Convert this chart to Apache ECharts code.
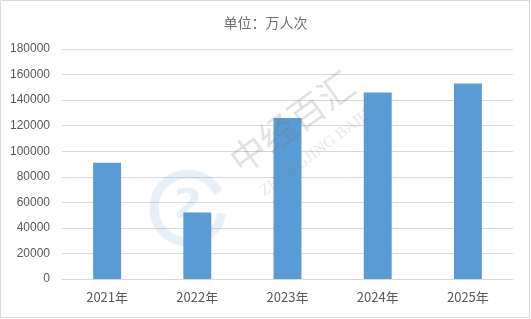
<!DOCTYPE html>
<html>
<head>
<meta charset="utf-8">
<script src="https://cdn.jsdelivr.net/npm/echarts@6/dist/echarts.min.js"></script>
<style>
  html, body { margin: 0; padding: 0; background: #fff; }
  #chart { width: 531px; height: 319px; }
</style>
</head>
<body>
<div id="chart"></div>
<script>
// Visitor volume by year (unit: 10k person-trips)
const years = ['2021年', '2022年', '2023年', '2024年', '2025年'];
const visits = [91000, 52000, 126000, 146000, 153000];
const yTicks = { min: 0, max: 180000, interval: 20000 };

const chart = echarts.init(document.getElementById('chart'), null, { renderer: 'canvas' });

chart.setOption({
  backgroundColor: '#ffffff',
  animation: false,
  title: {
    text: '单位：万人次',
    left: 'center',
    top: 11,
    textStyle: { fontFamily: 'Noto Sans CJK SC', fontSize: 14, fontWeight: 'normal', color: '#6f6f6f' }
  },
  grid: { left: 62, right: 18, top: 49, bottom: 40, containLabel: false },
  xAxis: {
    type: 'category',
    data: years,
    axisLine: { show: true, lineStyle: { color: '#D9D9D9', width: 1 } },
    axisTick: { show: false },
    axisLabel: { color: '#595959', fontSize: 13, margin: 12, fontFamily: 'Noto Sans CJK SC' }
  },
  yAxis: {
    type: 'value',
    min: yTicks.min,
    max: yTicks.max,
    interval: yTicks.interval,
    axisLine: { show: false },
    axisTick: { show: false },
    splitLine: { lineStyle: { color: '#D9D9D9', width: 1 } },
    axisLabel: {
      color: '#595959', fontSize: 12, margin: 12, fontFamily: 'Liberation Sans',
      formatter: v => String(v)
    }
  },
  series: [{
    type: 'bar',
    data: visits,
    barWidth: '31%',
    itemStyle: { color: '#5B9BD5' },
    z: 2
  }],
  graphic: [
    // chart frame
    {
      type: 'rect',
      shape: { x: 0.5, y: 0.5, width: 529, height: 317 },
      style: { fill: 'none', stroke: '#D9D9D9', lineWidth: 1 },
      silent: true, z: 0
    },
    // brand mark: ring
    {
      type: 'arc',
      shape: { cx: 188, cy: 208, r: 34, startAngle: Math.PI * 0.05, endAngle: Math.PI * 1.85 },
      style: { fill: 'none', stroke: 'rgba(91,155,213,0.15)', lineWidth: 9 },
      silent: true, z: 100
    },
    {
      type: 'text',
      x: 188, y: 208,
      style: {
        text: '2', fontSize: 40, fontWeight: 'bold', fontFamily: 'DejaVu Sans',
        fill: 'rgba(91,155,213,0.15)', align: 'center', verticalAlign: 'middle'
      },
      silent: true, z: 100
    },
    // brand mark: name
    {
      type: 'text',
      x: 292, y: 122,
      rotation: Math.PI * 0.2,
      style: {
        text: '中经百汇', fontSize: 36, fontFamily: 'Noto Sans CJK SC',
        fill: 'rgba(110,110,110,0.2)', align: 'center', verticalAlign: 'middle'
      },
      silent: true, z: 100
    },
    {
      type: 'text',
      x: 322, y: 148,
      rotation: Math.PI * 0.205,
      style: {
        text: 'ZHONGJING BAIHUI', fontSize: 16, fontFamily: 'Liberation Serif',
        fill: 'rgba(140,140,140,0.2)', align: 'center', verticalAlign: 'middle'
      },
      silent: true, z: 100
    }
  ]
});
</script>
</body>
</html>
